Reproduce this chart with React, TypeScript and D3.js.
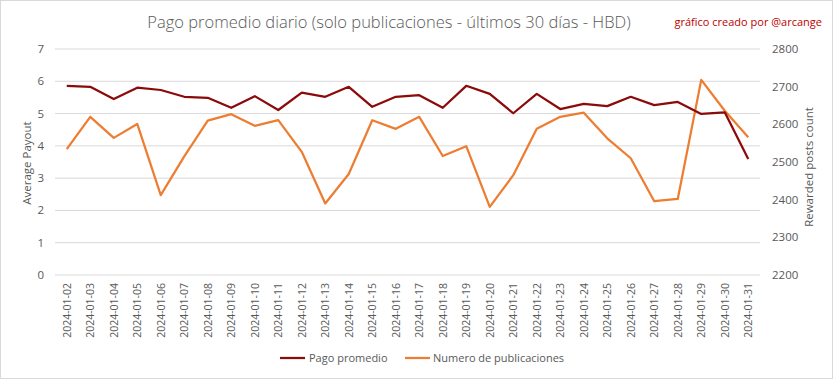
import React from "react";
import * as d3 from "d3";

const dates = [
  "2024-01-02","2024-01-03","2024-01-04","2024-01-05","2024-01-06","2024-01-07","2024-01-08","2024-01-09","2024-01-10","2024-01-11",
  "2024-01-12","2024-01-13","2024-01-14","2024-01-15","2024-01-16","2024-01-17","2024-01-18","2024-01-19","2024-01-20","2024-01-21",
  "2024-01-22","2024-01-23","2024-01-24","2024-01-25","2024-01-26","2024-01-27","2024-01-28","2024-01-29","2024-01-30","2024-01-31",
];
const pagoPromedio = [
  5.86, 5.83, 5.45, 5.80, 5.73, 5.52, 5.49, 5.18, 5.54, 5.11,
  5.65, 5.52, 5.83, 5.21, 5.52, 5.57, 5.18, 5.86, 5.61, 5.01,
  5.61, 5.14, 5.30, 5.23, 5.52, 5.26, 5.36, 4.99, 5.04, 3.59,
];
const numeroPublicaciones = [
  2534, 2620, 2564, 2601, 2412, 2515, 2610, 2627, 2596, 2611,
  2527, 2390, 2468, 2611, 2588, 2620, 2516, 2542, 2381, 2465,
  2588, 2620, 2631, 2563, 2510, 2396, 2402, 2718, 2636, 2566,
];
const leftTicks = [0, 1, 2, 3, 4, 5, 6, 7];
const rightTicks = [2200, 2300, 2400, 2500, 2600, 2700, 2800];

const W = 833, H = 379;
const M = { left: 55, right: 760, top: 49, bottom: 275 };
const RED = "#8B0A0A";
const ORANGE = "#ED7D31";
const GRID = "#D9D9D9";
const TXT = "#595959";
const FONT = "'Open Sans', 'DejaVu Sans', sans-serif";

export default function App() {
  const x = d3.scaleBand<string>().domain(dates).range([M.left, M.right]);
  const cx = (d: string) => (x(d) as number) + x.bandwidth() / 2;
  const yL = d3.scaleLinear().domain([0, 7]).range([M.bottom, M.top]);
  const yR = d3.scaleLinear().domain([2200, 2800]).range([M.bottom, M.top]);
  const redLine = d3.line<number>().x((_, i) => cx(dates[i])).y((v) => yL(v));
  const orangeLine = d3.line<number>().x((_, i) => cx(dates[i])).y((v) => yR(v));

  return (
    <div style={{ position: "fixed", left: 0, top: 0 }}>
      <svg width={W} height={H} style={{ display: "block", fontFamily: FONT }}>
        <rect x={0.5} y={0.5} width={W - 1} height={H - 1} fill="#fff" stroke={GRID} />
        <text x={389} y={28} textAnchor="middle" fontSize={16.5} fill={TXT} fontWeight={300}>
          Pago promedio diario (solo publicaciones - últimos 30 días - HBD)
        </text>
        <text x={822} y={26} textAnchor="end" fontSize={11} fill="#C00000">
          gráfico creado por @arcange
        </text>
        {leftTicks.map((t) => (
          <g key={"l" + t}>
            <line x1={M.left} x2={M.right} y1={yL(t)} y2={yL(t)} stroke={GRID} strokeWidth={1} />
            <text x={44} y={yL(t) + 4} textAnchor="end" fontSize={11.5} fill={TXT}>{t}</text>
          </g>
        ))}
        {rightTicks.map((t) => (
          <text key={"r" + t} x={772} y={yR(t) + 4} textAnchor="start" fontSize={11.5} fill={TXT}>{t}</text>
        ))}
        <text transform={`translate(31,163) rotate(-90)`} textAnchor="middle" fontSize={11.5} fill={TXT}>Average Payout</text>
        <text transform={`translate(813,167) rotate(-90)`} textAnchor="middle" fontSize={11.5} fill={TXT}>Rewarded posts count</text>
        {dates.map((d) => (
          <text key={d} transform={`translate(${cx(d) + 4},${283}) rotate(-90)`} textAnchor="end" fontSize={10.5} fill={TXT}>{d}</text>
        ))}
        <path d={orangeLine(numeroPublicaciones) as string} fill="none" stroke={ORANGE} strokeWidth={2.25} strokeLinejoin="round" />
        <path d={redLine(pagoPromedio) as string} fill="none" stroke={RED} strokeWidth={2.25} strokeLinejoin="round" />
        <line x1={280} x2={305} y1={358} y2={358} stroke={RED} strokeWidth={2.25} />
        <text x={309} y={362} fontSize={11} fill={TXT}>Pago promedio</text>
        <line x1={405} x2={430} y1={358} y2={358} stroke={ORANGE} strokeWidth={2.25} />
        <text x={433} y={362} fontSize={11} fill={TXT}>Numero de publicaciones</text>
      </svg>
    </div>
  );
}
